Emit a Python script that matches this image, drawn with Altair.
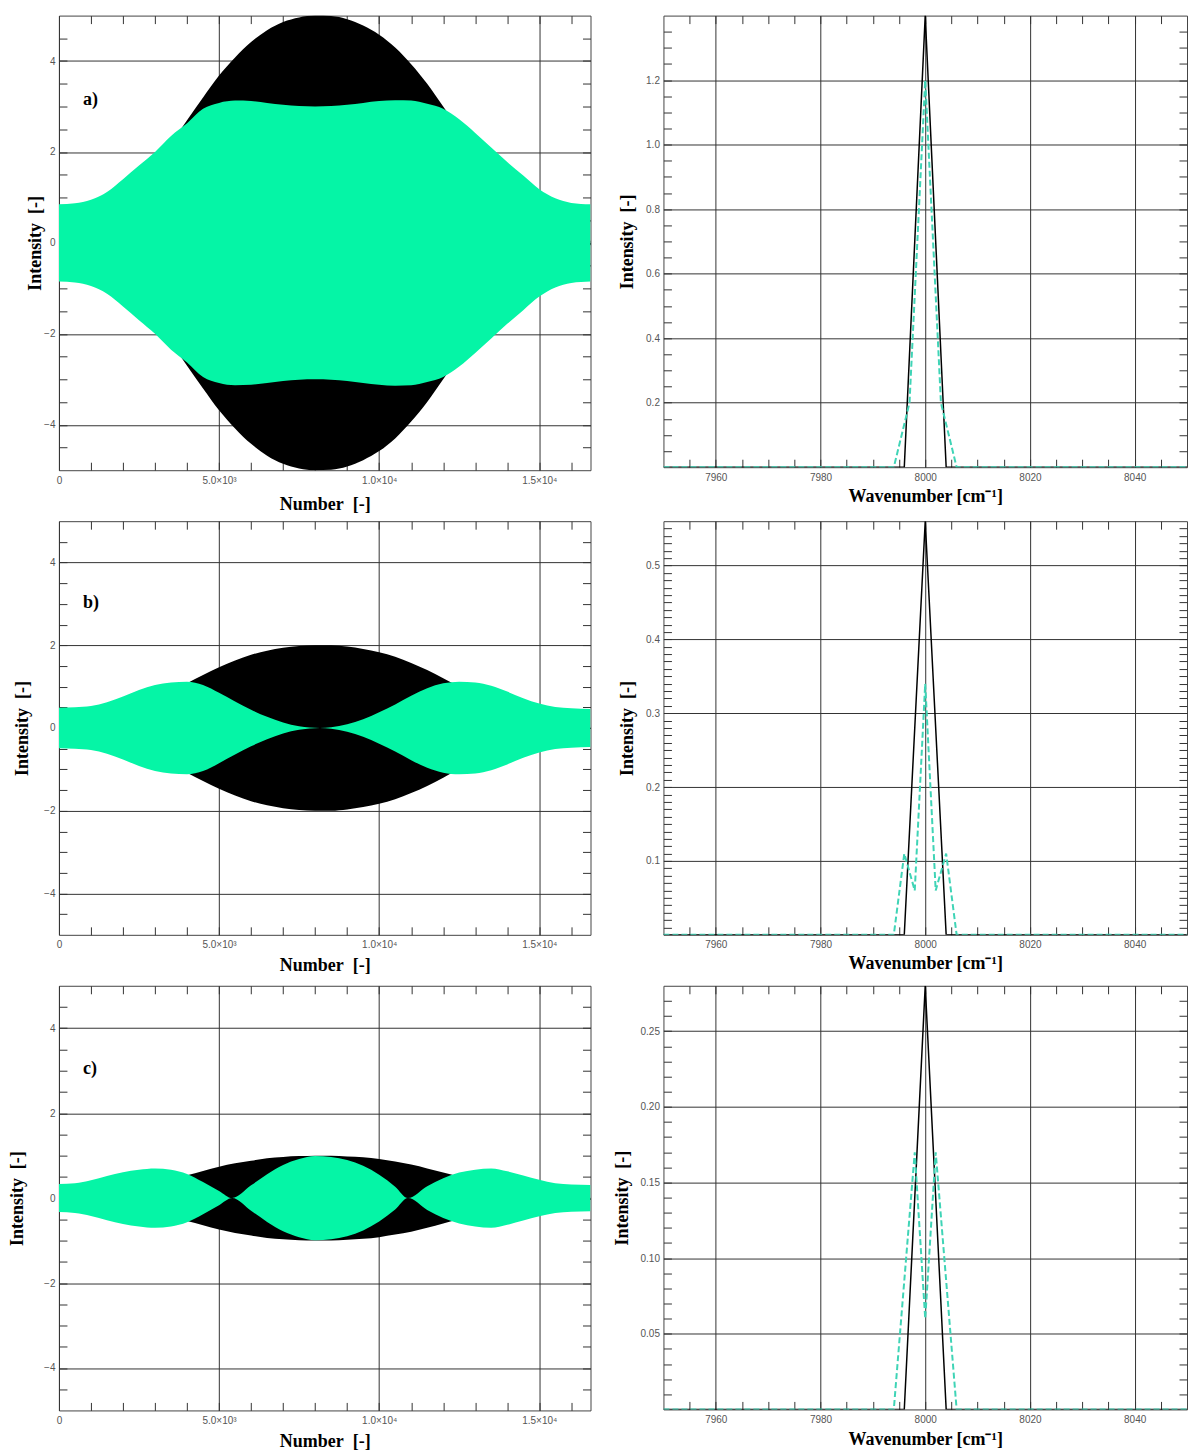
import altair as alt
import pandas as pd

# ---------------- interferograms (sample number vs. envelope half-amplitude) -------------
n_grid = [0, 500, 1000, 1500, 2000, 2500, 3000, 3500, 4000, 4500, 5000, 5500, 6000,
          6500, 7000, 7500, 8000, 8500, 9000, 9500, 10000, 10500, 11000, 11500, 12000,
          12500, 13000, 13500, 14000, 14500, 15000, 15500, 16000, 16600]

black_a = [0.06, 0.15, 0.33, 0.56, 0.88, 1.28, 1.72, 2.2, 2.7, 3.2, 3.68, 4.08, 4.42,
           4.68, 4.86, 4.96, 5.0, 4.99, 4.92, 4.78, 4.58, 4.3, 3.93, 3.5, 3.0,
           2.5, 2.02, 1.55, 1.12, 0.74, 0.45, 0.25, 0.12, 0.05]
green_a = [0.85, 0.87, 0.95, 1.12, 1.4, 1.7, 2.0, 2.35, 2.63, 2.95, 3.08, 3.13, 3.12,
           3.08, 3.04, 3.01, 3.0, 3.01, 3.04, 3.08, 3.12, 3.14, 3.13, 3.06, 2.95,
           2.72, 2.42, 2.1, 1.78, 1.48, 1.18, 0.98, 0.88, 0.85]

black_b = [0.02, 0.06, 0.13, 0.22, 0.35, 0.51, 0.69, 0.88, 1.08, 1.28, 1.47, 1.63, 1.77,
           1.87, 1.94, 1.98, 2.0, 2.0, 1.97, 1.91, 1.83, 1.72, 1.57, 1.4, 1.2,
           1.0, 0.81, 0.62, 0.45, 0.3, 0.18, 0.1, 0.05, 0.02]
green_b_n = [0, 500, 1000, 1500, 2000, 2500, 3000, 3500, 4000, 4500, 5000, 5500, 6000,
             6500, 7000, 7500, 8150, 8500, 9000, 9500, 10000, 10500, 11000, 11500, 12000,
             12500, 13000, 13500, 14000, 14500, 15000, 15500, 16000, 16600]
green_b = [0.49, 0.5, 0.53, 0.62, 0.76, 0.92, 1.04, 1.1, 1.12, 1.04, 0.85, 0.64, 0.44,
           0.27, 0.13, 0.04, 0.0, 0.02, 0.09, 0.21, 0.38, 0.57, 0.78, 0.96, 1.08,
           1.12, 1.1, 1.02, 0.88, 0.72, 0.59, 0.51, 0.48, 0.46]

black_c = [0.01, 0.03, 0.07, 0.11, 0.18, 0.26, 0.34, 0.44, 0.54, 0.64, 0.74, 0.82, 0.88,
           0.94, 0.97, 0.99, 1.0, 1.0, 0.98, 0.96, 0.92, 0.86, 0.79, 0.7, 0.6,
           0.5, 0.4, 0.31, 0.22, 0.15, 0.09, 0.05, 0.02, 0.01]
green_c_n = [0, 500, 1000, 1500, 2000, 2500, 3000, 3500, 4000, 4500, 5000, 5410, 6000,
             6500, 7000, 7500, 8000, 8500, 9000, 9500, 10000, 10500, 10900, 11500, 12000,
             12500, 13000, 13500, 14000, 14500, 15000, 15500, 16000, 16600]
green_c = [0.33, 0.35, 0.42, 0.52, 0.61, 0.67, 0.7, 0.67, 0.57, 0.38, 0.17, 0.0, 0.3,
           0.56, 0.78, 0.92, 0.99, 0.97, 0.9, 0.76, 0.55, 0.27, 0.0, 0.28, 0.47,
           0.6, 0.67, 0.7, 0.63, 0.53, 0.43, 0.35, 0.32, 0.31]

# ---------------- spectra (wavenumber vs. intensity) ----------------
wn_black = [7950, 7996, 8000, 8004, 8050]
spec_black_a = [0, 0, 1.4, 0, 0]
spec_black_b = [0, 0, 0.56, 0, 0]
spec_black_c = [0, 0, 0.28, 0, 0]

wn_green_a = [7950, 7994, 7997, 8000, 8003, 8006, 8050]
spec_green_a = [0, 0, 0.2, 1.2, 0.2, 0, 0]
wn_green = [7950, 7994, 7996, 7998, 8000, 8002, 8004, 8006, 8050]
spec_green_b = [0, 0, 0.11, 0.06, 0.34, 0.06, 0.11, 0, 0]
spec_green_c = [0, 0, 0.085, 0.17, 0.06, 0.17, 0.085, 0, 0]

panel_tags = ["a)", "b)", "c)"]

# ---------------- styling ----------------
BLACK = "#000000"
MINT = "#05f5a6"
TEAL = "#3fd4b6"
GRID = "#333333"
LEFT_W, RIGHT_W = 532, 524
SERIF = "Liberation Serif"
GAP = "\u2002"

num_label_expr = ("datum.value == 0 ? '0' : datum.value == 5000 ? '5.0×10³' : "
                  "datum.value == 10000 ? '1.0×10⁴' : '1.5×10⁴'")
num_minor = [v * 1000 for v in range(1, 17)]
int_minor = [v / 2 for v in range(-9, 10)]


def minor_axis(values, length):
    # short inward ticks on both opposite edges, drawn as dashed grid lines
    return alt.Axis(values=values, grid=True, gridDash=[8, length - 16], gridColor=GRID,
                    labels=False, ticks=False, domain=False, title=None)


def interferogram(n_black, black, n_green, green, tag, tag_y, height, title_x, title_y):
    xs = alt.Scale(domain=[0, 16600], nice=False, zero=False)
    ys = alt.Scale(domain=[-5, 5], nice=False, zero=False)
    dfb = pd.DataFrame({"n": n_black, "hi": black})
    dfg = pd.DataFrame({"n": n_green, "hi": green})

    black_layer = alt.Chart(dfb).transform_calculate(lo="-datum.hi").mark_area(
        color=BLACK, interpolate="monotone", clip=True
    ).encode(
        x=alt.X("n:Q", scale=xs, axis=alt.Axis(
            values=[0, 5000, 10000, 15000], labelExpr=num_label_expr,
            title="Number" + GAP + "[-]",
            titleY=title_y, titleBaseline="middle", ticks=False, domain=False, grid=True,
            labelFlush=False, labelOverlap=False, labelPadding=5)),
        y=alt.Y("hi:Q", scale=ys, axis=alt.Axis(
            values=[-4, -2, 0, 2, 4], title="Intensity" + GAP + "[-]", titleX=title_x,
            titleBaseline="middle", ticks=False, domain=False, grid=True,
            labelFlush=False, labelOverlap=False, labelPadding=4)),
        y2="lo:Q",
    )
    green_layer = alt.Chart(dfg).transform_calculate(lo="-datum.hi").mark_area(
        color=MINT, interpolate="monotone", clip=True
    ).encode(
        x=alt.X("n:Q", scale=xs, axis=minor_axis(num_minor, height)),
        y=alt.Y("hi:Q", scale=ys, axis=minor_axis(int_minor, LEFT_W)),
        y2="lo:Q",
    )
    tag_layer = alt.Chart(pd.DataFrame({"n": [750], "v": [tag_y], "t": [tag]})).mark_text(
        font=SERIF, fontWeight="bold", fontSize=18, align="left", baseline="middle",
        color="black"
    ).encode(
        x=alt.X("n:Q", scale=xs, axis=None),
        y=alt.Y("v:Q", scale=ys, axis=None),
        text="t:N",
    )
    return alt.layer(black_layer, green_layer, tag_layer).resolve_axis(
        x="independent", y="independent"
    ).properties(width=LEFT_W, height=height)


def spectrum(black, wn_g, green, ymax, major, minor, fmt, height, title_x, title_y):
    xs = alt.Scale(domain=[7950, 8050], nice=False, zero=False)
    ys = alt.Scale(domain=[0, ymax], nice=False, zero=False)
    dfb = pd.DataFrame({"wn": wn_black, "v": black})
    dfg = pd.DataFrame({"wn": wn_g, "v": green})

    black_layer = alt.Chart(dfb).mark_line(color=BLACK, strokeWidth=1.5, clip=True).encode(
        x=alt.X("wn:Q", scale=xs, axis=alt.Axis(
            values=[7960, 7980, 8000, 8020, 8040], format="d",
            title="Wavenumber [cm⁻¹]", titleY=title_y, titleBaseline="middle",
            ticks=False, domain=False, grid=True, labelFlush=False, labelOverlap=False,
            labelPadding=5)),
        y=alt.Y("v:Q", scale=ys, axis=alt.Axis(
            values=major, format=fmt, title="Intensity" + GAP + "[-]", titleX=title_x,
            titleBaseline="middle", ticks=False, domain=False, grid=True,
            labelFlush=False, labelOverlap=False, labelPadding=4)),
    )
    green_layer = alt.Chart(dfg).mark_line(
        color=TEAL, strokeWidth=2, strokeDash=[6, 3], clip=True
    ).encode(
        x=alt.X("wn:Q", scale=xs, axis=minor_axis(list(range(7955, 8050, 5)), height)),
        y=alt.Y("v:Q", scale=ys, axis=minor_axis(minor, RIGHT_W)),
    )
    return alt.layer(black_layer, green_layer).resolve_axis(
        x="independent", y="independent"
    ).properties(width=RIGHT_W, height=height)


left_a = interferogram(n_grid, black_a, n_grid, green_a, panel_tags[0], 3.15, 455, -23, 34)
left_b = interferogram(n_grid, black_b, green_b_n, green_b, panel_tags[1], 3.02, 414, -36, 31)
left_c = interferogram(n_grid, black_c, green_c_n, green_c, panel_tags[2], 3.05, 425, -41, 31)

right_a = spectrum(spec_black_a, wn_green_a, spec_green_a, 1.4,
                   [0.2, 0.4, 0.6, 0.8, 1.0, 1.2],
                   [round(k * 0.05, 2) for k in range(1, 28)], ".1f", 452, -36, 29)
right_b = spectrum(spec_black_b, wn_green, spec_green_b, 0.56,
                   [0.1, 0.2, 0.3, 0.4, 0.5],
                   [round(k * 0.01, 2) for k in range(1, 56)], ".1f", 414, -36, 29)
right_c = spectrum(spec_black_c, wn_green, spec_green_c, 0.28,
                   [0.05, 0.10, 0.15, 0.20, 0.25],
                   [round(k * 0.01, 2) for k in range(1, 28)], ".2f", 424, -41, 30)

chart = alt.ConcatChart(
    concat=[left_a, right_a, left_b, right_b, left_c, right_c],
    columns=2,
    spacing={"row": 51, "column": 73},
    bounds="flush",
    padding={"left": 8, "top": 14, "right": 0, "bottom": 0},
).configure_view(
    stroke="#444444", strokeWidth=1
).configure_axis(
    labelFont="Liberation Sans", labelFontSize=10, labelColor="#555555",
    titleFont=SERIF, titleFontSize=18, titleFontWeight="bold", titleColor="black",
    gridColor=GRID, gridWidth=1, gridOpacity=1,
)

chart.save("out.html", embed_options={"renderer": "svg", "actions": False})
